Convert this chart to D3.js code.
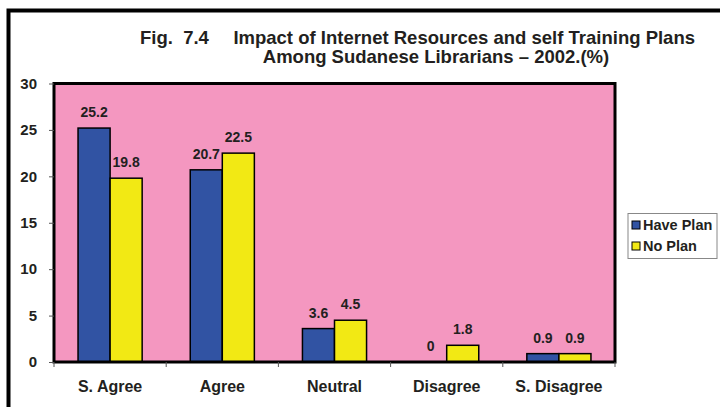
<!DOCTYPE html>
<html>
<head>
<meta charset="utf-8">
<script src="https://cdn.jsdelivr.net/npm/d3@7/dist/d3.min.js"></script>
<style>
  html, body { margin: 0; padding: 0; background: #fff; }
  svg { display: block; font-family: "Liberation Sans", Arial, Helvetica, sans-serif; }
</style>
</head>
<body>
<svg id="chart" width="720" height="407"></svg>
<script>
const categories = ["S. Agree", "Agree", "Neutral", "Disagree", "S. Disagree"];
const seriesNames = ["Have Plan", "No Plan"];
const havePlan = [25.2, 20.7, 3.6, 0, 0.9];
const noPlan = [19.8, 22.5, 4.5, 1.8, 0.9];
const yTicks = [0, 5, 10, 15, 20, 25, 30];
const titleLabel = "Fig.  7.4";
const titleLines = ["Impact of Internet Resources and self Training Plans",
                    "Among Sudanese Librarians \u2013 2002.(%)"];

const colors = ["#3153A3", "#F2E914"];
const series = [havePlan, noPlan];
const textColor = "#231F20";

const svg = d3.select("#chart");
const plot = { left: 54, right: 615, top: 83.5, bottom: 362 };

// outer frame (runs off the right and bottom edges)
svg.append("rect")
  .attr("x", 8.5).attr("y", 10.5).attr("width", 740).attr("height", 440)
  .attr("fill", "none").attr("stroke", "#000").attr("stroke-width", 4);

// title
const title = svg.append("g")
  .attr("font-size", 18.5).attr("font-weight", "bold").attr("fill", textColor);
title.append("text").attr("x", 140).attr("y", 44)
  .style("white-space", "pre").text(titleLabel);
title.append("text").attr("x", 695).attr("y", 44)
  .attr("text-anchor", "end").text(titleLines[0]);
title.append("text").attr("x", 436).attr("y", 63)
  .attr("text-anchor", "middle").text(titleLines[1]);

const x = d3.scaleBand().domain(categories).range([plot.left, plot.right]);
const xs = d3.scaleBand().domain(d3.range(series.length))
  .range([0, x.bandwidth()]).paddingOuter(0.75);
const y = d3.scaleLinear().domain([0, 30]).range([plot.bottom, plot.top]);

// plot background
svg.append("rect")
  .attr("x", plot.left).attr("y", plot.top)
  .attr("width", plot.right - plot.left).attr("height", plot.bottom - plot.top)
  .attr("fill", "#F497C0");

// bars and value labels
const groups = svg.append("g").selectAll("g").data(series).join("g")
  .attr("fill", (d, i) => colors[i]);
groups.each(function (vals, si) {
  d3.select(this).selectAll("rect").data(vals).join("rect")
    .attr("x", (v, ci) => x(categories[ci]) + xs(si))
    .attr("y", v => y(v))
    .attr("width", xs.bandwidth())
    .attr("height", v => y(0) - y(v))
    .attr("stroke", "#000").attr("stroke-width", 1.5)
    .attr("display", v => v > 0 ? null : "none");
  d3.select(this).selectAll("text").data(vals).join("text")
    .attr("x", (v, ci) => x(categories[ci]) + xs(si) + xs.bandwidth() / 2)
    .attr("y", v => y(v) - 11)
    .attr("text-anchor", "middle")
    .attr("font-size", 14).attr("font-weight", "bold").attr("fill", textColor)
    .text(v => v);
});

// plot border
svg.append("rect")
  .attr("x", plot.left).attr("y", plot.top)
  .attr("width", plot.right - plot.left).attr("height", plot.bottom - plot.top)
  .attr("fill", "none").attr("stroke", "#000").attr("stroke-width", 3);

// y axis
const yAxis = svg.append("g").attr("transform", `translate(${plot.left},0)`)
  .call(d3.axisLeft(y).tickValues(yTicks).tickSize(5).tickPadding(12));
yAxis.select(".domain").remove();
yAxis.selectAll("line").attr("stroke", "#555");
yAxis.selectAll("text").attr("font-size", 15).attr("font-weight", "bold")
  .attr("fill", textColor).attr("font-family", "Liberation Sans, Arial, sans-serif");

// x axis
const xAxis = svg.append("g").attr("transform", `translate(0,${plot.bottom})`)
  .call(d3.axisBottom(x).tickSize(0).tickPadding(19));
xAxis.select(".domain").remove();
xAxis.selectAll("text").attr("font-size", 16).attr("font-weight", "bold")
  .attr("fill", textColor).attr("font-family", "Liberation Sans, Arial, sans-serif");
svg.append("g").selectAll("line")
  .data(categories.map(c => x(c)).concat([plot.right]))
  .join("line")
  .attr("x1", d => d).attr("x2", d => d)
  .attr("y1", plot.bottom).attr("y2", plot.bottom + 5)
  .attr("stroke", "#555");

// legend
const legend = svg.append("g");
legend.append("rect")
  .attr("x", 628).attr("y", 213.5).attr("width", 89).attr("height", 45)
  .attr("fill", "#fff").attr("stroke", "#888").attr("stroke-width", 1);
const li = legend.selectAll("g").data(seriesNames).join("g")
  .attr("transform", (d, i) => `translate(632,${225 + i * 21})`);
li.append("rect")
  .attr("x", 0).attr("y", -4).attr("width", 8).attr("height", 8)
  .attr("fill", (d, i) => colors[i]).attr("stroke", "#000").attr("stroke-width", 1);
li.append("text")
  .attr("x", 11).attr("y", 5)
  .attr("font-size", 14.5).attr("font-weight", "bold").attr("fill", textColor)
  .text(d => d);
</script>
</body>
</html>
